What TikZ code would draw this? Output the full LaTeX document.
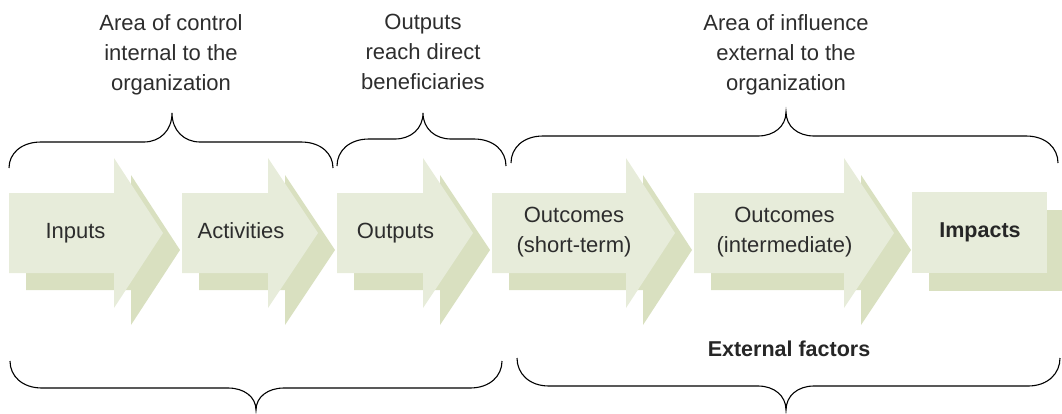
\documentclass[tikz,border=0pt]{standalone}
\usepackage{fontspec}
\setmainfont{Liberation Sans}
\definecolor{arrowfront}{RGB}{231,236,218}
\definecolor{arrowback}{RGB}{217,224,192}
\definecolor{txtgray}{RGB}{45,45,45}
% x1, x2, tip of a chevron arrow with its offset shadow
\newcommand{\chevarrow}[3]{%
  \fill[backfill, shift={(17,17)}] (#1,193) -- (#2,193) -- (#2,158) -- (#3,233) -- (#2,308) -- (#2,273) -- (#1,273) -- cycle;
  \fill[frontfill] (#1,193) -- (#2,193) -- (#2,158) -- (#3,233) -- (#2,308) -- (#2,273) -- (#1,273) -- cycle;
}
% x1, x2, xtip, y of ends, y of horizontal, y of tip
\newcommand{\mybrace}[6]{%
  \pgfmathsetmacro\bA{#5+0.45*(#4-#5)}%
  \pgfmathsetmacro\bB{#5+0.4*(#6-#5)}%
  \draw[bracestyle] (#1,#4) .. controls (#1,\bA) and (#1+12,#5) .. (#1+32,#5)
    -- (#3-28,#5) .. controls (#3-12,#5) and (#3,\bB) .. (#3,#6)
    .. controls (#3,\bB) and (#3+12,#5) .. (#3+28,#5)
    -- (#2-32,#5) .. controls (#2-12,#5) and (#2,\bA) .. (#2,#4);
}
\begin{document}
\begin{tikzpicture}[x=1pt,y=-1pt,
  lbl/.style={font=\fontsize{22}{30}\selectfont, text=txtgray, inner sep=0pt, align=center},
  boldlbl/.style={lbl, font=\fontsize{21.5}{30}\selectfont\bfseries, text=black!85},
  bracestyle/.style={draw=black, line width=1.1pt},
  frontfill/.style={fill=arrowfront},
  backfill/.style={fill=arrowback}]
\useasboundingbox (0,0) rectangle (1062,413);

% arrows
\chevarrow{9}{114}{163}
\chevarrow{182}{268}{318}
\chevarrow{337}{423}{473}
\chevarrow{492}{626}{675}
\chevarrow{694}{844}{894}
% impacts box
\fill[backfill] (929,210) rectangle (1064,291);
\fill[frontfill] (912,192) rectangle (1047,273);

% box labels
\node[lbl, anchor=base] (inputs) at (75.5,238) {Inputs};
\node[lbl, anchor=base] (activities) at (241,238) {Activities};
\node[lbl, anchor=base] (outputs) at (395.5,238) {Outputs};
\node[lbl, anchor=north] (oshort) at (574,207) {Outcomes\\(short-term)};
\node[lbl, anchor=north] (ointer) at (784.5,207) {Outcomes\\(intermediate)};
\node[boldlbl, anchor=base] (impacts) at (980,237) {Impacts};

% top labels
\node[lbl, anchor=north] (ctrl) at (171,14) {Area of control\\internal to the\\organization};
\node[lbl, anchor=north] (reach) at (423,14) {Outputs\\reach direct\\beneficiaries};
\node[lbl, anchor=north] (infl) at (786,14) {Area of influence\\external to the\\organization};

% external factors
\node[boldlbl, anchor=base] (ext) at (789,356) {External factors};

% braces
\mybrace{9}{333}{172}{168}{142}{113}
\mybrace{337}{506}{423}{166}{139}{113}
\mybrace{511}{1058}{786}{163}{136}{112}
\mybrace{10}{502}{256}{361}{388}{410}
\mybrace{517}{1060}{786}{358}{386}{410}
\end{tikzpicture}
\end{document}
